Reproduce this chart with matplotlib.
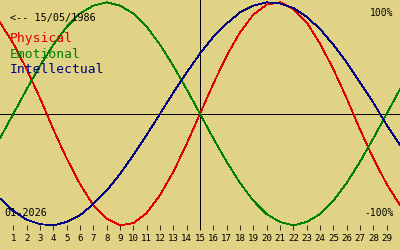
import matplotlib
matplotlib.use("Agg")
import matplotlib.pyplot as plt

days = list(range(0, 31))
tick_days = list(range(1, 30))
tick_labels = [str(d) for d in tick_days]

physical = [0.82, 0.63, 0.40, 0.14, -0.14, -0.40, -0.63, -0.82, -0.94, -1.00,
            -0.98, -0.89, -0.73, -0.52, -0.27, 0.00, 0.27, 0.52, 0.73, 0.89,
            0.98, 1.00, 0.94, 0.82, 0.63, 0.40, 0.14, -0.14, -0.40, -0.63, -0.82]
emotional = [-0.22, 0.00, 0.22, 0.43, 0.62, 0.78, 0.90, 0.97, 1.00, 0.97,
             0.90, 0.78, 0.62, 0.43, 0.22, 0.00, -0.22, -0.43, -0.62, -0.78,
             -0.90, -0.97, -1.00, -0.97, -0.90, -0.78, -0.62, -0.43, -0.22, 0.00, 0.22]
intellectual = [-0.76, -0.87, -0.95, -0.99, -1.00, -0.97, -0.91, -0.81, -0.69, -0.54,
                -0.37, -0.19, 0.00, 0.19, 0.37, 0.54, 0.69, 0.81, 0.91, 0.97,
                1.00, 0.99, 0.95, 0.87, 0.76, 0.62, 0.46, 0.28, 0.10, -0.10, -0.28]

series_names = ["Physical", "Emotional", "Intellectual"]
series_colors = ["#e00000", "#008000", "#000080"]
today = 15
birth_label = "<-- 15/05/1986"
month_label = "01-2026"

BG = "#e1d385"
W, H = 400, 250
LW = 0.55

fig = plt.figure(figsize=(4, 2.5), dpi=100, facecolor=BG)
ax = fig.add_axes([0, 20 / H, 1, 230 / H])
ax.set_facecolor(BG)

for vals, c in zip([physical, emotional, intellectual], series_colors):
    ax.plot(days, vals, color=c, lw=LW, antialiased=False, zorder=3)

ax.axhline(0, color="black", lw=LW, antialiased=False, zorder=2)
ax.axvline(today, color="black", lw=LW, antialiased=False, zorder=2)

ax.set_xlim(0, 30)
ax.set_ylim(-1.042, 1.0206)
for s in ax.spines.values():
    s.set_visible(False)
ax.set_yticks([])
ax.set_xticks(tick_days)
ax.set_xticklabels(tick_labels, fontfamily="DejaVu Sans Mono", fontsize=6.6)
ax.tick_params(axis="x", direction="in", length=3.6, width=LW, color="black",
               pad=3.0, labelcolor="black")


def px(x, y):
    return x / W, 1 - y / H


fig.text(*px(10, 20.7), birth_label, fontfamily="DejaVu Sans Mono", fontsize=7.3,
         color="black", va="baseline", ha="left")
for i, (name, c) in enumerate(zip(series_names, series_colors)):
    fig.text(*px(10, 42 + 15.5 * i), name, fontfamily="DejaVu Sans Mono",
             fontsize=9.4, color=c, va="baseline", ha="left")
fig.text(*px(393, 16), "100%", fontfamily="DejaVu Sans Mono", fontsize=7,
         color="black", va="baseline", ha="right")
fig.text(*px(394, 216), "-100%", fontfamily="DejaVu Sans Mono", fontsize=7,
         color="black", va="baseline", ha="right")
fig.text(*px(4, 216), month_label, fontfamily="DejaVu Sans Mono", fontsize=7.3,
         color="black", va="baseline", ha="left")

fig.savefig("out.png", dpi=100, facecolor=BG)
